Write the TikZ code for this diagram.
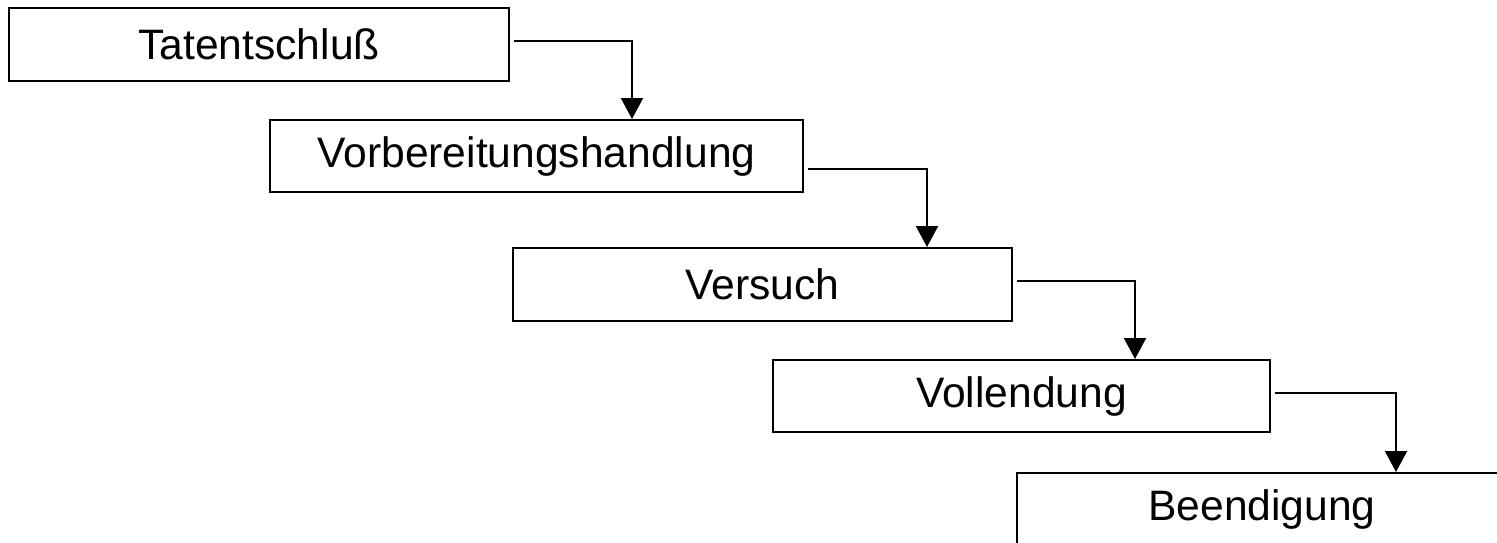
\documentclass[tikz,border=0pt]{standalone}
\usepackage{fontspec}
\setmainfont{Liberation Sans}
\usetikzlibrary{arrows.meta}
\begin{document}
\begin{tikzpicture}[x=1pt,y=-1pt,
  stepbox/.style={draw=black, line width=2pt, rectangle, inner sep=0pt,
    font=\fontsize{42.6}{50}\selectfont, text=black},
  conn/.style={draw=black, line width=2pt,
    -{Triangle[width=22pt,length=21pt]}}]
\useasboundingbox (0,0) rectangle (1497,542);
\node[stepbox, minimum width=500pt, minimum height=73pt] (b1) at (259,44.5) {Tatentschluß};
\node[stepbox, minimum width=533pt, minimum height=72pt] (b2) at (536.5,156) {Vorbereitungshandlung};
\node[stepbox, minimum width=499pt, minimum height=73pt] (b3) at (762.5,284.5) {Versuch};
\node[stepbox, minimum width=497pt, minimum height=72pt] (b4) at (1021.5,396) {Vollendung};
\begin{scope}
\clip (0,0) rectangle (1497,542);
\node[stepbox, minimum width=490pt, minimum height=72pt] (b5) at (1262,509) {Beendigung};
\end{scope}
\coordinate (k1) at (632,41);
\coordinate (k2) at (927,169);
\coordinate (k3) at (1135,281);
\coordinate (k4) at (1396,393);
\draw[conn] ([xshift=4pt]b1.east |- k1) -- (k1) -- (k1 |- b2.north);
\draw[conn] ([xshift=4pt]b2.east |- k2) -- (k2) -- (k2 |- b3.north);
\draw[conn] ([xshift=4pt]b3.east |- k3) -- (k3) -- (k3 |- b4.north);
\draw[conn] ([xshift=4pt]b4.east |- k4) -- (k4) -- (k4 |- b5.north);
\end{tikzpicture}
\end{document}
